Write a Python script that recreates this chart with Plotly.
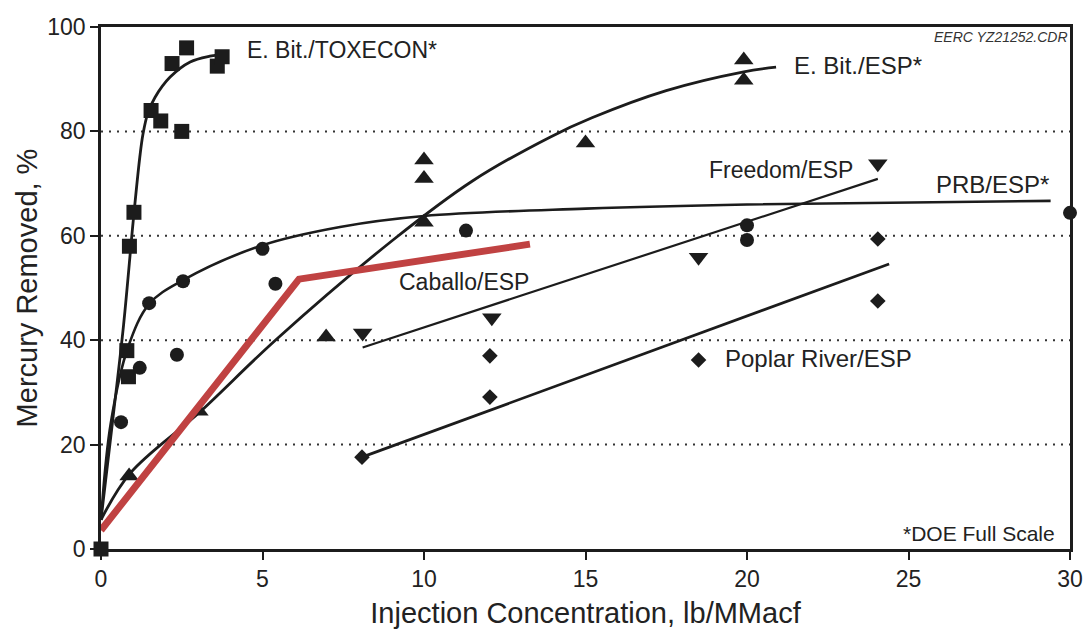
import plotly.graph_objects as go

# ---- measured points ----
tox_x = [0, 0.8, 0.85, 0.88, 1.02, 1.55, 1.85, 2.2, 2.5, 2.65, 3.6, 3.75]
tox_y = [0, 38, 33, 58, 64.5, 84, 82, 93, 80, 96, 92.5, 94.3]

prb_x = [0.62, 1.2, 1.49, 2.35, 2.54, 5.0, 5.4, 11.3, 20, 20, 30]
prb_y = [24.3, 34.7, 47.1, 37.2, 51.3, 57.5, 50.8, 61, 62, 59.2, 64.4]

ebesp_x = [0.87, 3.03, 6.97, 10, 10, 10, 15, 19.9, 19.9]
ebesp_y = [14, 26.4, 40.6, 62.6, 71, 74.5, 77.8, 89.8, 93.7]

free_x = [8.1, 12.1, 18.5, 24.05]
free_y = [41.4, 44.3, 55.9, 73.8]

pop_x = [8.08, 12.04, 12.04, 18.5, 24.05, 24.05]
pop_y = [17.6, 29.1, 37, 36.2, 47.5, 59.4]

# ---- fitted curves (traced) ----
tox_fit_x = [0, 0.35, 0.7, 1.0, 1.2, 1.3, 1.45, 1.67, 2.14, 2.76, 3.37, 3.6]
tox_fit_y = [5.6, 24, 43, 63, 75, 79.5, 83.5, 86.5, 90.4, 93.3, 94.4, 94.6]

prb_fit_x = [0, 0.3, 0.84, 1.5, 2.54, 5.0, 7.4, 10, 15, 20, 29.4]
prb_fit_y = [5.6, 24, 38.7, 47, 51.5, 58.2, 61.7, 63.8, 65.2, 66, 66.7]

ebesp_fit_x = [0, 0.9, 3.07, 5.4, 9.04, 11.5, 13.9, 15.2, 17.5, 19.9, 20.9]
ebesp_fit_y = [5.6, 14.5, 26.3, 40, 59.2, 70.5, 78.9, 82.6, 87.8, 91.4, 92.3]

free_fit_x = [8.1, 24.05]
free_fit_y = [38.6, 70.9]

pop_fit_x = [8.08, 24.4]
pop_fit_y = [17.6, 54.6]

cab_x = [0, 6.13, 13.28]
cab_y = [3.6, 51.7, 58.4]

INK = "#1c1c1c"
RED = "#c04242"
FONT = "Liberation Sans, Arial, sans-serif"

fig = go.Figure()

def curve(x, y, shape="spline", width=2.8):
    fig.add_trace(go.Scatter(x=x, y=y, mode="lines",
                             line=dict(color=INK, width=width, shape=shape, smoothing=1.0),
                             hoverinfo="skip", cliponaxis=False))

def pts(x, y, symbol, size):
    fig.add_trace(go.Scatter(x=x, y=y, mode="markers",
                             marker=dict(symbol=symbol, size=size, color=INK, line=dict(width=0)),
                             cliponaxis=False))

curve(tox_fit_x, tox_fit_y)
curve(prb_fit_x, prb_fit_y, width=2.6)
curve(ebesp_fit_x, ebesp_fit_y)
curve(free_fit_x, free_fit_y, shape="linear", width=2.2)
curve(pop_fit_x, pop_fit_y, shape="linear", width=2.8)

pts(tox_x, tox_y, "square", 15)
pts(prb_x, prb_y, "circle", 14)
pts(ebesp_x, ebesp_y, "triangle-up", 17)
pts(free_x, free_y, "triangle-down", 17)
pts(pop_x, pop_y, "diamond", 12)

fig.add_trace(go.Scatter(x=cab_x, y=cab_y, mode="lines",
                         line=dict(color=RED, width=7), cliponaxis=False))

labels = [
    (4.46, 95.6, "E. Bit./TOXECON*", "left", 23),
    (21.4, 92.7, "E. Bit./ESP*", "left", 24),
    (18.76, 72.6, "Freedom/ESP", "left", 23),
    (25.8, 69.8, "PRB/ESP*", "left", 24),
    (9.16, 51.1, "Caballo/ESP", "left", 23),
    (19.25, 36.5, "Poplar River/ESP", "left", 24),
    (29.6, 3.0, "*DOE Full Scale", "right", 21),
]
for lx, ly, txt, anc, fs in labels:
    fig.add_annotation(x=lx, y=ly, text=txt, showarrow=False, xanchor=anc, yanchor="middle",
                       font=dict(family=FONT, size=fs, color="#222"))

fig.add_annotation(xref="x domain", yref="paper", x=1.0, y=1.0, xanchor="right", yanchor="top",
                   text="<i>EERC YZ21252.CDR</i>", showarrow=False,
                   font=dict(family=FONT, size=14, color="#333"))

axis_common = dict(showline=True, linecolor=INK, linewidth=2.5, mirror=True,
                   ticks="outside", ticklen=8, tickwidth=2, tickcolor=INK,
                   tickfont=dict(family=FONT, size=23, color="#222"),
                   zeroline=False, automargin=False)

fig.update_xaxes(range=[0, 30], tickvals=[0, 5, 10, 15, 20, 25, 30], showgrid=False,
                 title=dict(text="Injection Concentration, lb/MMacf",
                            font=dict(family=FONT, size=29, color="#222"), standoff=12),
                 **axis_common)
fig.update_yaxes(range=[0, 100], tickvals=[0, 20, 40, 60, 80, 100], showgrid=False,
                 title=dict(text="Mercury Removed, %",
                            font=dict(family=FONT, size=29, color="#222"), standoff=2),
                 **axis_common)

# dotted reference levels
for gy in [20, 40, 60, 80]:
    fig.add_shape(type="line", xref="x", yref="y", x0=0, x1=30, y0=gy, y1=gy,
                  line=dict(color="#333", width=2, dash="2px,6px"), layer="below")

fig.update_layout(width=1085, height=634, showlegend=False,
                  plot_bgcolor="white", paper_bgcolor="white",
                  margin=dict(l=101, r=15, t=27, b=85))

fig.write_html("out.html")
